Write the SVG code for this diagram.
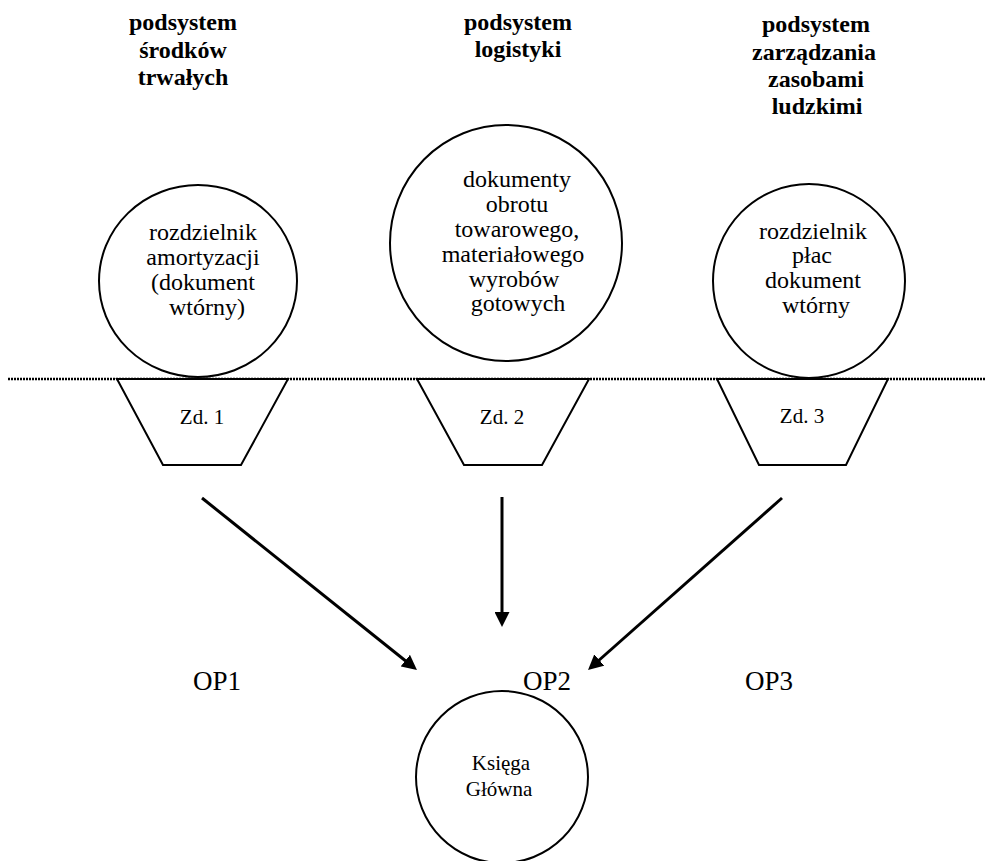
<svg xmlns="http://www.w3.org/2000/svg" width="986" height="861" viewBox="0 0 986 861">
<style>
.hdr{font-family:"Liberation Serif","Times New Roman",serif;font-weight:bold;font-size:24px;fill:#000;text-anchor:middle}
.txt{font-family:"Liberation Serif","Times New Roman",serif;font-size:24px;fill:#000;text-anchor:middle}
.sm{font-family:"Liberation Serif","Times New Roman",serif;font-size:21px;fill:#000;text-anchor:middle}
.op{font-family:"Liberation Serif","Times New Roman",serif;font-size:27px;fill:#000}
.shape{fill:#fff;stroke:#000;stroke-width:2}
.conn{stroke:#000;stroke-width:3;fill:none}
</style>
<defs>
<marker id="ah" viewBox="0 0 15 15" refX="3" refY="7.5" markerWidth="15" markerHeight="15" markerUnits="userSpaceOnUse" orient="auto">
<path d="M0,0 L15,7.5 L0,15 z" fill="#000"/>
</marker>
</defs>
<rect width="986" height="861" fill="#fff"/>

<g id="headers">
<text class="hdr" x="183" y="30">podsystem</text>
<text class="hdr" x="183" y="58">środków</text>
<text class="hdr" x="183" y="85">trwałych</text>
<text class="hdr" x="518" y="30">podsystem</text>
<text class="hdr" x="518" y="57">logistyki</text>
<text class="hdr" x="816" y="32">podsystem</text>
<text class="hdr" x="814" y="60">zarządzania</text>
<text class="hdr" x="816" y="87">zasobami</text>
<text class="hdr" x="817" y="114">ludzkimi</text>
</g>

<line x1="8" y1="379" x2="986" y2="379" stroke="#000" stroke-width="2.5" stroke-dasharray="2 1"/>

<g id="circle1">
<ellipse class="shape" cx="198" cy="281" rx="99" ry="96"/>
<text class="txt" x="203" y="240">rozdzielnik</text>
<text class="txt" x="203" y="265">amortyzacji</text>
<text class="txt" x="203" y="290">(dokument</text>
<text class="txt" x="207" y="315">wtórny)</text>
</g>

<g id="circle2">
<ellipse class="shape" cx="506" cy="243" rx="116" ry="118"/>
<text class="txt" x="517" y="187">dokumenty</text>
<text class="txt" x="517" y="212">obrotu</text>
<text class="txt" x="517" y="237">towarowego,</text>
<text class="txt" x="513" y="262">materiałowego</text>
<text class="txt" x="514" y="287">wyrobów</text>
<text class="txt" x="518" y="311">gotowych</text>
</g>

<g id="circle3">
<ellipse class="shape" cx="809" cy="281" rx="96" ry="97"/>
<text class="txt" x="813" y="239">rozdzielnik</text>
<text class="txt" x="812" y="263">płac</text>
<text class="txt" x="813" y="288">dokument</text>
<text class="txt" x="816" y="313">wtórny</text>
</g>

<g id="zd1">
<polygon class="shape" points="117,379 288,379 241,465 163,465"/>
<text class="sm" x="202" y="424">Zd. 1</text>
</g>
<g id="zd2">
<polygon class="shape" points="417,379 589,379 542,465 464,465"/>
<text class="sm" x="502" y="424">Zd. 2</text>
</g>
<g id="zd3">
<polygon class="shape" points="717,379 888,379 846,465 759,465"/>
<text class="sm" x="802" y="423">Zd. 3</text>
</g>

<g id="connectors">
<line class="conn" x1="202" y1="498" x2="407.6" y2="662.5" marker-end="url(#ah)"/>
<line class="conn" x1="502" y1="497" x2="502" y2="615" marker-end="url(#ah)"/>
<line class="conn" x1="782" y1="498" x2="597" y2="662" marker-end="url(#ah)"/>
</g>

<g id="labels">
<text class="op" x="193" y="690">OP1</text>
<text class="op" x="523" y="690">OP2</text>
<text class="op" x="745" y="690">OP3</text>
</g>

<g id="ksiega">
<circle class="shape" cx="502" cy="777" r="86"/>
<text class="sm" x="501" y="770">Księga</text>
<text class="sm" x="499" y="796">Główna</text>
</g>
</svg>
